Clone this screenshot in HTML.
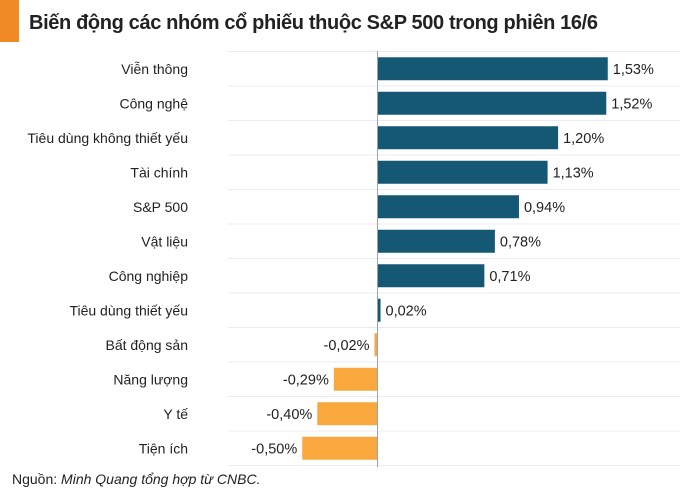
<!DOCTYPE html>
<html><head><meta charset="utf-8"><style>
body{margin:0;background:#fff;width:700px;height:495px;overflow:hidden;font-family:"Liberation Sans",sans-serif}
</style></head><body>
<svg width="700" height="495" xmlns="http://www.w3.org/2000/svg">
<rect x="0" y="0" width="19" height="42" fill="#f08a24"/>
<text x="29" y="29" font-size="20" font-weight="bold" fill="#222" textLength="569">Biến động các nhóm cổ phiếu thuộc S&amp;P 500 trong phiên 16/6</text>
<g id="grid"></g><g id="bars"></g>
<line x1="377.5" y1="51" x2="377.5" y2="467" stroke="#9aa4b0" stroke-width="1"/>
<text x="12" y="484" font-size="14" fill="#222">Nguồn: <tspan font-style="italic">Minh Quang tổng hợp từ CNBC.</tspan></text>
</svg>
<script>
const categories=["Viễn thông","Công nghệ","Tiêu dùng không thiết yếu","Tài chính","S&P 500","Vật liệu","Công nghiệp","Tiêu dùng thiết yếu","Bất động sản","Năng lượng","Y tế","Tiện ích"];
const values=[1.53,1.52,1.20,1.13,0.94,0.78,0.71,0.02,-0.02,-0.29,-0.40,-0.50];
const valueLabels=["1,53%","1,52%","1,20%","1,13%","0,94%","0,78%","0,71%","0,02%","-0,02%","-0,29%","-0,40%","-0,50%"];
const NS="http://www.w3.org/2000/svg";
const x0=377.5,scale=150.5,top0=51.5,rowH=34.5,barH=23;
const xs=v=>x0+v*scale;
const ys=i=>top0+i*rowH;
const grid=document.getElementById('grid'),bars=document.getElementById('bars');
for(let i=0;i<=categories.length;i++){
 const l=document.createElementNS(NS,'line');
 l.setAttribute('x1',228);l.setAttribute('x2',680);l.setAttribute('y1',ys(i));l.setAttribute('y2',ys(i));
 l.setAttribute('stroke','#ececf0');l.setAttribute('stroke-width','1');
 
 
 grid.appendChild(l);
}
categories.forEach((c,i)=>{
 const v=values[i],cy=ys(i)+rowH/2;
 const r=document.createElementNS(NS,'rect');
 const a=xs(Math.min(0,v)),b=xs(Math.max(0,v));
 r.setAttribute('x',a);r.setAttribute('y',cy-barH/2);r.setAttribute('width',Math.max(b-a,2.5));r.setAttribute('height',barH);
 r.setAttribute('fill',v>=0?'#145874':'#f8a83c');
 
 
 bars.appendChild(r);
 const t=document.createElementNS(NS,'text');
 t.setAttribute('x',188);t.setAttribute('y',cy+5);t.setAttribute('text-anchor','end');t.setAttribute('font-size','14');t.setAttribute('fill','#222');
 t.textContent=c;
 
 
 bars.appendChild(t);
 const vl=document.createElementNS(NS,'text');
 const pos=v>=0;
 vl.setAttribute('x',pos?Math.max(b,x0+2.5)+5:a-5);vl.setAttribute('y',cy+5);
 vl.setAttribute('text-anchor',pos?'start':'end');vl.setAttribute('font-size','14.5');vl.setAttribute('fill','#222');
 vl.textContent=valueLabels[i];
 
 
 bars.appendChild(vl);
});
</script>
</body></html>
